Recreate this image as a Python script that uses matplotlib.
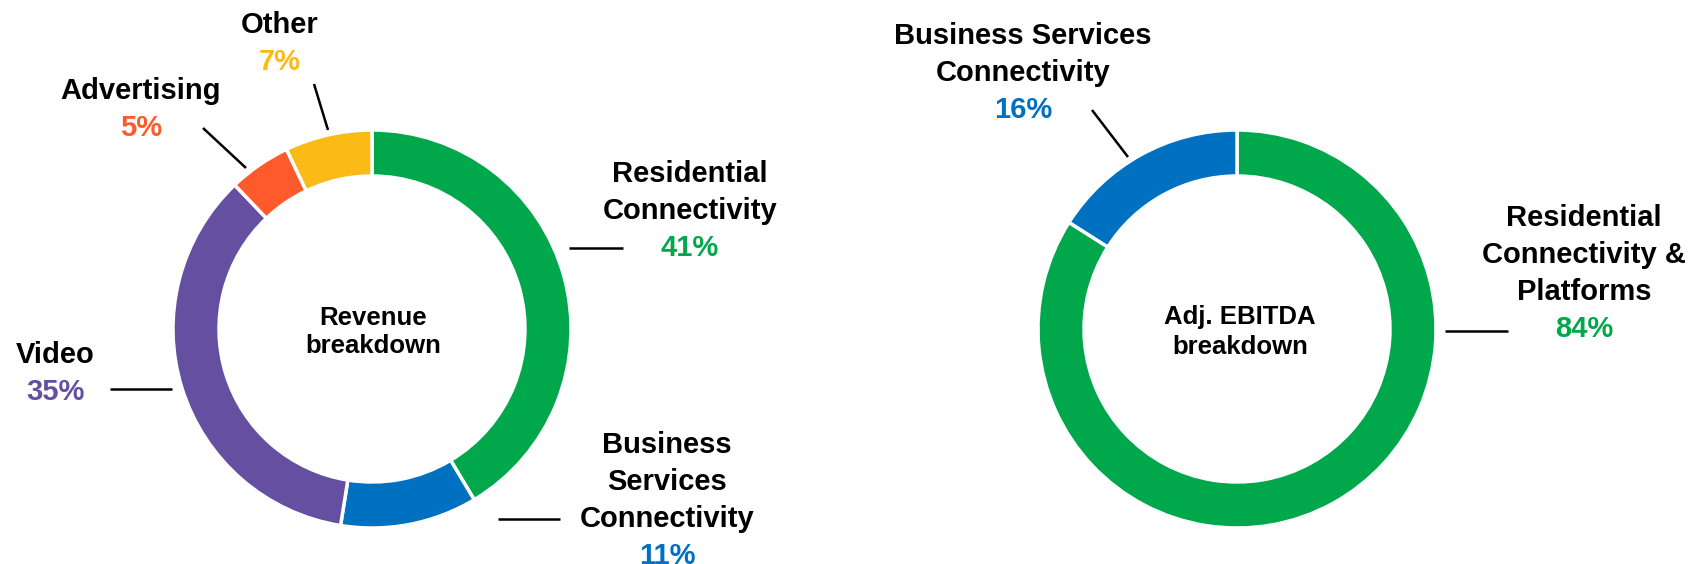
import matplotlib
matplotlib.use("Agg")
import matplotlib.pyplot as plt

# ---- data ----
revenue_labels = ["Residential\nConnectivity", "Business\nServices\nConnectivity",
                  "Video", "Advertising", "Other"]
revenue_values = [41, 11, 35, 5, 7]
revenue_colors = ["#00A84B", "#0070C0", "#644FA0", "#FF5A2B", "#FBBA15"]
revenue_title = "Revenue\nbreakdown"

ebitda_labels = ["Residential\nConnectivity &\nPlatforms", "Business Services\nConnectivity"]
ebitda_values = [84, 16]
ebitda_colors = ["#00A84B", "#0070C0"]
ebitda_title = "Adj. EBITDA\nbreakdown"

# ---- canvas in pixel units (y measured from the top) ----
W, H = 1691, 564
fig = plt.figure(figsize=(W / 100, H / 100), dpi=100)
ax = fig.add_axes([0, 0, 1, 1])

def Y(y):
    return H - y

FONT = "Liberation Sans"
R_OUT, RING = 199, 46
LABEL_SIZE, TITLE_SIZE = 21, 18.5

def donut(values, colors, cx, cy):
    ax.pie(values, colors=colors, startangle=90, counterclock=False,
           radius=R_OUT, center=(cx, Y(cy)),
           wedgeprops=dict(width=RING, edgecolor="white", linewidth=2.5))

def lines_at(text, x, y0, step, size, color="black"):
    for i, line in enumerate(text.split("\n")):
        ax.text(x, Y(y0 + i * step), line, ha="center", va="baseline",
                fontsize=size, fontweight="bold", family=FONT, color=color)
    return y0 + len(text.split("\n")) * step

def label(name, value, color, x, y0, step=37):
    y_pct = lines_at(name, x, y0, step, LABEL_SIZE)
    ax.text(x, Y(y_pct), f"{value}%", ha="center", va="baseline",
            fontsize=LABEL_SIZE, fontweight="bold", family=FONT, color=color)

def leader(x0, y0, x1, y1):
    ax.plot([x0, x1], [Y(y0), Y(y1)], color="black", lw=1.8,
            solid_capstyle="butt")

# ---- revenue donut ----
donut(revenue_values, revenue_colors, 372, 329)
lines_at(revenue_title, 373, 325, 28, TITLE_SIZE)

rev_layout = [
    # (text x, first baseline, leader line)
    (690, 182, (569, 248, 623, 248)),
    (667, 453, (498, 519, 560, 519)),
    (55, 363, (110, 389, 172, 389)),
    (141, 99, (203, 128, 246, 168)),
    (280, 33, (314, 84, 328, 130)),
]
for name, val, col, (tx, ty, ln) in zip(revenue_labels, revenue_values,
                                         revenue_colors, rev_layout):
    label(name, val, col, tx, ty)
    leader(*ln)

# ---- adj. EBITDA donut ----
donut(ebitda_values, ebitda_colors, 1237, 329)
lines_at(ebitda_title, 1240, 324, 30, TITLE_SIZE)

ebitda_layout = [
    (1584, 226, (1445, 331, 1508, 331)),
    (1023, 44, (1092, 110, 1128, 157)),
]
for name, val, col, (tx, ty, ln) in zip(ebitda_labels, ebitda_values,
                                         ebitda_colors, ebitda_layout):
    label(name, val, col, tx, ty)
    leader(*ln)

ax.set_xlim(0, W)
ax.set_ylim(0, H)
ax.set_aspect("equal")
ax.axis("off")

fig.savefig("out.png", dpi=100, facecolor="white")
